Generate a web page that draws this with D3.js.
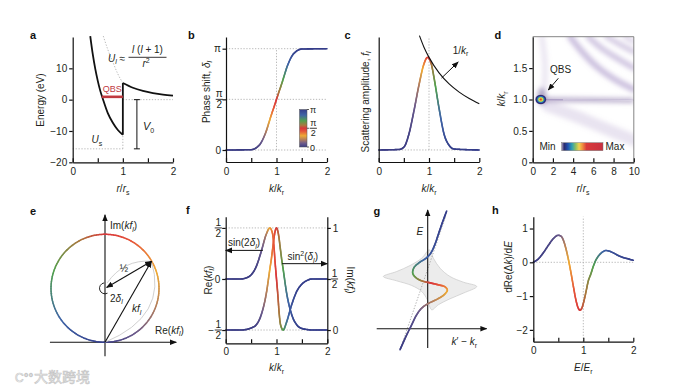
<!DOCTYPE html>
<html><head><meta charset="utf-8">
<script src="https://cdn.jsdelivr.net/npm/d3@7"></script>
<style>body{margin:0;background:#fff}svg{display:block}</style>
</head><body><svg id="c" width="690" height="391"></svg>
<script>
// ================= DATA =================
const kTicks=[0,0.5,1,1.5,2], kTickLab=['0','','1','','2'];
// panel a
const aTickY=[-20,-10,0,10], aTickYLab=['−20','−10','0','10'];
const aInnerR=[0.35,0.4,0.45,0.5,0.55,0.6,0.7,0.8,0.9,1.0];
const aInnerE=[20.3,14.5,9.8,6.0,2.8,0.3,-4.3,-7.4,-9.7,-11.2];
const aOuterR=[1.0,1.2,1.4,1.6,1.8,2.0];
const aOuterE=[5.3,3.8,2.8,2.1,1.6,1.3];
const aUlR=[0.61,0.7,0.8,0.9,1.0];
const aUlE=[20.3,16.0,12.0,8.2,5.3];
const aUs=-15.7;
const aQbs=[0.58,1.0,0.9];
const aV0=[1.28,0,-15.7];
// panel b
const bK=[0,0.5,0.6,0.7,0.75,0.8,0.85,0.9,0.95,1.0,1.05,1.1,1.15,1.2,1.25,1.3,1.4,1.5,2.0];
const bDelta=[0,0.01,0.07,0.24,0.4,0.6,0.85,1.1,1.33,1.571,1.81,2.04,2.29,2.54,2.74,2.9,3.07,3.13,3.1416];
// panel c
const cK=[0,0.4,0.5,0.6,0.7,0.8,0.9,0.97,1.05,1.1,1.2,1.3,1.4,1.5,2.0];
const cF=[0,0.005,0.03,0.17,0.42,0.7,0.93,1.0,0.92,0.78,0.45,0.17,0.05,0.01,0];
const cEnvK=[0.81,0.9,1.0,1.2,1.4,1.6,1.8,2.0];
const cEnvF=[1.235,1.11,1.0,0.833,0.714,0.625,0.556,0.5];
// panel d
const dTickX=[0,2,4,6,8,10], dTickXLab=['0','2','4','6','8','10'];
const dTickY=[0,0.5,1.0,1.5], dTickYLab=['0','0.5','1.0','1.5'];
const dBands=[
  {pts:[[3.7,2.0],[5.0,1.74],[6.3,1.53],[8.0,1.33],[10,1.16]],w:6,o:0.6},
  {pts:[[5.5,2.0],[6.7,1.83],[8.0,1.69],[10,1.5]],w:5.5,o:0.55},
  {pts:[[7.3,2.0],[8.6,1.88],[10,1.76]],w:5,o:0.5},
  {pts:[[9.1,2.0],[10,1.92]],w:4,o:0.45},
  {pts:[[0.9,2.0],[1.2,1.6],[1.2,1.3],[1.0,1.1]],w:5,o:0.25},
  {pts:[[1.5,0.9],[4,0.75],[7,0.55],[10,0.35]],w:12,o:0.25}
];
const dSpot=[0.8,1.0];
const dLineR=[0.8,3,10], dLineK=[1.0,0.995,0.985];
// panel e
const eKf=[0.43,0.75];
const eArc1=[[0.02,0.55],[0.175,0.77],[0.43,0.75]];
const eArc2=[[0,0],[0.585,0.245],[0.43,0.75]];
// panel f
const fK=[0,0.3,0.4,0.5,0.6,0.7,0.8,0.87,0.9,0.93,0.95,0.97,1.0,1.03,1.05,1.07,1.1,1.13,1.2,1.3,1.4,1.5,1.6,1.7,2.0];
const fRe=[0,0,0.01,0.04,0.12,0.27,0.44,0.5,0.48,0.42,0.32,0.18,0,-0.18,-0.32,-0.42,-0.48,-0.5,-0.42,-0.25,-0.12,-0.05,-0.015,0,0];
const fIm=[0,0,0.005,0.02,0.05,0.15,0.36,0.6,0.7,0.82,0.9,0.96,1.0,0.96,0.9,0.82,0.7,0.6,0.36,0.15,0.05,0.015,0.005,0,0];
// panel g
const gCurve=[[-0.83,-0.63],[-0.65,-0.23],[-0.48,0.12],[-0.33,0.42],[-0.18,0.62],[0.02,0.76],[0.27,0.88],[0.49,1.02],[0.59,1.16],[0.52,1.26],[0.32,1.32],[0.07,1.38],[-0.18,1.44],[-0.36,1.54],[-0.45,1.67],[-0.41,1.84],[-0.25,1.99],[-0.05,2.12],[0.09,2.27],[0.21,2.52],[0.33,2.87],[0.45,3.22],[0.57,3.54]];
const gT=[0.0,0.02,0.04,0.07,0.12,0.17,0.22,0.27,0.31,0.36,0.42,0.5,0.58,0.65,0.7,0.75,0.8,0.86,0.9,0.94,0.97,0.99,1.0];
const gBand=[[0.05,2.37],[-0.18,2.12],[-0.53,1.9],[-0.93,1.72],[-1.33,1.57],[-0.93,1.44],[-0.48,1.3],[-0.18,1.12],[-0.01,0.87],[0.12,0.57],[0.32,0.72],[0.67,0.9],[1.07,1.07],[1.47,1.27],[1.07,1.4],[0.67,1.57],[0.37,1.82],[0.17,2.12]];
const gRef=[[-0.75,-0.4],[0.55,3.4]];
// panel h
const hE=[0,0.1,0.2,0.3,0.4,0.5,0.55,0.6,0.65,0.7,0.75,0.8,0.85,0.9,0.93,0.97,1.0,1.05,1.1,1.15,1.2,1.25,1.3,1.4,1.45,1.5,1.6,1.7,1.8,1.9,2.0];
const hV=[0,0.1,0.28,0.5,0.7,0.8,0.78,0.66,0.42,0.1,-0.28,-0.7,-1.1,-1.36,-1.42,-1.36,-1.22,-0.9,-0.55,-0.35,-0.12,0.06,0.18,0.32,0.35,0.34,0.28,0.2,0.14,0.1,0.06];
const hT=[0,0.01,0.02,0.03,0.05,0.08,0.11,0.16,0.22,0.28,0.34,0.4,0.45,0.48,0.5,0.53,0.55,0.58,0.62,0.66,0.7,0.74,0.78,0.85,0.88,0.9,0.93,0.95,0.97,0.98,0.99];
const hTickY=[-2,-1,0,1], hTickYLab=['−2','−1','0','1'];
// colour maps
const phaseStops=[0,0.1,0.2,0.3,0.42,0.5,0.58,0.7,0.85,1];
const phaseColors=['#3a3c84','#6d5b8a','#b57f5a','#eeaa35','#e5553a','#d9363a','#a9783e','#52a04e','#3f64a6','#353d8a'];
const heatStops=[0,0.06,0.15,0.25,0.34,0.42,0.5,0.6,1];
const heatColors=['#a89cc0','#2a2a6a','#2050b0','#30a0b0','#90c060','#f0d050','#f09040','#d83a3a','#c83040'];

// ================= HELPERS =================
const FONT='"Liberation Sans", Arial, Helvetica, sans-serif';
const INK='#231f20';
const svg=d3.select('#c');
svg.append('rect').attr('width',690).attr('height',391).attr('fill','#fff');
const defs=svg.append('defs');
const phaseScale=d3.scaleLinear().domain(phaseStops).range(phaseColors).clamp(true);
function marker(id){defs.append('marker').attr('id',id).attr('viewBox','0 0 10 10').attr('refX',9).attr('refY',5)
  .attr('markerWidth',7).attr('markerHeight',7).attr('markerUnits','userSpaceOnUse').attr('orient','auto-start-reverse')
  .append('path').attr('d','M0,1 L10,5 L0,9 z').attr('fill','#111');}
marker('arr');
const bl=defs.append('filter').attr('id','blur').attr('x','-50%').attr('y','-50%').attr('width','200%').attr('height','200%');
bl.append('feGaussianBlur').attr('stdDeviation',2.4);
const bl2=defs.append('filter').attr('id','blur1').attr('x','-50%').attr('y','-50%').attr('width','200%').attr('height','200%');
bl2.append('feGaussianBlur').attr('stdDeviation',0.6);

function rich(g,x,y,parts,attrs={}){
  const t=g.append('text').attr('x',x).attr('y',y).attr('font-family',FONT).attr('font-size',10).attr('fill',INK);
  for(const k in attrs) t.attr(k,attrs[k]);
  let shift=0;
  parts.forEach(p=>{const s=p[0],st=p[1]||'';
    const sp=t.append('tspan').text(s);
    let target=0; if(st.includes('s')) target=2.8; else if(st.includes('S')) target=-4;
    if(target!==shift) sp.attr('dy',target-shift); shift=target;
    if(st.includes('s')||st.includes('S')) sp.attr('font-size',7);
    if(st.includes('i')) sp.attr('font-style','italic');
  });
  return t;
}
function styleAxis(gg){
  gg.attr('font-family',FONT);
  gg.select('.domain').attr('stroke','#111').attr('stroke-width',1.2);
  gg.selectAll('.tick line').attr('stroke','#111').attr('stroke-width',1.2);
  gg.selectAll('.tick text').attr('font-family',FONT).attr('font-size',10).attr('fill',INK);
}
function axB(g,sc,y,vals,labs,pad=6){
  const a=d3.axisBottom(sc).tickValues(vals).tickSizeInner(-4).tickSizeOuter(0).tickPadding(pad).tickFormat((d,i)=>labs[i]);
  const gg=g.append('g').attr('transform',`translate(0,${y})`).call(a); styleAxis(gg); return gg;
}
function axL(g,sc,x,vals,labs,pad=2){
  const a=d3.axisLeft(sc).tickValues(vals).tickSize(vals.length?3.5:0).tickSizeOuter(0).tickPadding(pad).tickFormat((d,i)=>labs[i]);
  const gg=g.append('g').attr('transform',`translate(${x},0)`).call(a); styleAxis(gg); return gg;
}
function axR(g,sc,x,vals,labs,pad=2){
  const a=d3.axisRight(sc).tickValues(vals).tickSize(3.5).tickSizeOuter(0).tickPadding(pad).tickFormat((d,i)=>labs[i]);
  const gg=g.append('g').attr('transform',`translate(${x},0)`).call(a); styleAxis(gg); return gg;
}
function frac(g,cx,cy,num,den,size=10){
  g.append('text').attr('x',cx).attr('y',cy-2).attr('text-anchor','middle').attr('font-family',FONT).attr('font-size',size).attr('fill',INK).text(num);
  g.append('line').attr('x1',cx-3.6).attr('x2',cx+3.6).attr('y1',cy).attr('y2',cy).attr('stroke',INK).attr('stroke-width',0.9);
  g.append('text').attr('x',cx).attr('y',cy+size*0.86).attr('text-anchor','middle').attr('font-family',FONT).attr('font-size',size).attr('fill',INK).text(den);
}
function dotted(g,x1,y1,x2,y2,col='#a8a8a8'){
  g.append('line').attr('x1',x1).attr('y1',y1).attr('x2',x2).attr('y2',y2).attr('stroke',col).attr('stroke-width',0.8).attr('stroke-dasharray','1.3,1.6');
}
function colorPath(g,pts,ts,opts={}){
  const curve=opts.curve||d3.curveMonotoneX,width=opts.width||1.6,mode=opts.mode||'x';
  const path=g.append('path').attr('d',d3.line().curve(curve)(pts)).attr('fill','none');
  const node=path.node(),L=node.getTotalLength();
  let dom;
  if(mode==='x') dom=pts.map(p=>p[0]);
  else{dom=[0];for(let i=1;i<pts.length;i++) dom.push(dom[i-1]+Math.hypot(pts[i][0]-pts[i-1][0],pts[i][1]-pts[i-1][1]));}
  const tsc=d3.scaleLinear().domain(dom).range(ts).clamp(true);
  const ct=dom[dom.length-1],N=Math.ceil(L/1.1);
  let p0=node.getPointAtLength(0);
  for(let i=1;i<=N;i++){
    const s=L*i/N,p1=node.getPointAtLength(s);
    const key=mode==='x'?(p0.x+p1.x)/2:(s-L/N/2)/L*ct;
    g.append('line').attr('x1',p0.x).attr('y1',p0.y).attr('x2',p1.x).attr('y2',p1.y)
      .attr('stroke',phaseScale(tsc(key))).attr('stroke-width',width).attr('stroke-linecap','round');
    p0=p1;
  }
  path.remove();
}
function panelLabel(x,y,s){svg.append('text').attr('x',x).attr('y',y).attr('font-family',FONT).attr('font-weight','bold').attr('font-size',11).attr('fill','#111').text(s);}
function rotLabel(g,x,y,parts,deg=-90){ return rich(g,0,0,parts,{'text-anchor':'middle','transform':`translate(${x},${y}) rotate(${deg})`}); }
const tOfK=d3.scaleLinear().domain(bK).range(bDelta.map(d=>d/Math.PI)).clamp(true);

// ================= PANEL a =================
{
  const g=svg.append('g');
  const x=d3.scaleLinear().domain([0,2]).range([72.7,173]);
  const y=d3.scaleLinear().domain([-20,20]).range([162.3,37]);
  dotted(g,x(0),y(aUs),x(1),y(aUs)); dotted(g,x(1),y(aUs),x(1),y(aInnerE[aInnerE.length-1]));
  dotted(g,x(1),y(0),x(2),y(0));
  g.append('path').attr('d',d3.line().curve(d3.curveMonotoneX)(aUlR.map((r,i)=>[x(r),y(aUlE[i])]))).attr('fill','none').attr('stroke','#a8a8a8').attr('stroke-width',0.8).attr('stroke-dasharray','1.3,1.6');
  const ln=d3.line().curve(d3.curveMonotoneX);
  g.append('path').attr('d',ln(aInnerR.map((r,i)=>[x(r),y(aInnerE[i])]))).attr('fill','none').attr('stroke','#111').attr('stroke-width',1.8);
  g.append('line').attr('x1',x(1)).attr('x2',x(1)).attr('y1',y(aInnerE[aInnerE.length-1])).attr('y2',y(aOuterE[0])).attr('stroke','#111').attr('stroke-width',1.8);
  g.append('path').attr('d',ln(aOuterR.map((r,i)=>[x(r),y(aOuterE[i])]))).attr('fill','none').attr('stroke','#111').attr('stroke-width',1.8);
  g.append('line').attr('x1',x(aQbs[0])).attr('x2',x(aQbs[1])).attr('y1',y(aQbs[2])).attr('y2',y(aQbs[2])).attr('stroke','#c0393f').attr('stroke-width',2.6);
  g.append('text').attr('x',(x(aQbs[0])+x(aQbs[1]))/2).attr('y',y(aQbs[2])-4.5).attr('text-anchor','middle').attr('font-family',FONT).attr('font-size',9).attr('fill','#c0393f').text('QBS');
  const vx=x(aV0[0]);
  g.append('line').attr('x1',vx).attr('x2',vx).attr('y1',y(aV0[1])).attr('y2',y(aV0[2])).attr('stroke','#111').attr('stroke-width',1);
  [aV0[1],aV0[2]].forEach(e=>g.append('line').attr('x1',vx-3).attr('x2',vx+3).attr('y1',y(e)).attr('y2',y(e)).attr('stroke','#111').attr('stroke-width',1));
  rich(g,143,130,[['V','i'],['0','s']],{'font-size':11});
  rich(g,91.5,143,[['U','i'],['s','s']],{'font-size':10});
  rich(g,108,61.5,[['U','i'],['l','is'],[' ≈']],{'font-size':10});
  rich(g,147.5,53,[['l','i'],[' ('],['l','i'],[' + 1)']],{'font-size':10,'text-anchor':'middle'});
  g.append('line').attr('x1',128.5).attr('x2',166.5).attr('y1',57.3).attr('y2',57.3).attr('stroke',INK).attr('stroke-width',0.9);
  rich(g,146,67,[['r','i'],['2','S']],{'font-size':10,'text-anchor':'middle'});
  axB(g,x,162.3,kTicks,kTickLab);
  axL(g,y,72.7,aTickY,aTickYLab);
  rotLabel(g,43.5,100,[['Energy (eV)']]);
  rich(g,123,192,[['r','i'],['/'],['r','i'],['s','s']],{'text-anchor':'middle'});
}
// ================= PANEL b =================
{
  const g=svg.append('g');
  const x=d3.scaleLinear().domain([0,2]).range([226,327]);
  const y=d3.scaleLinear().domain([-0.372,3.504]).range([162,37]);
  [0,Math.PI/2,Math.PI].forEach(v=>dotted(g,x(0),y(v),x(2),y(v)));
  dotted(g,x(1),y(0),x(1),y(Math.PI));
  colorPath(g,bK.map((k,i)=>[x(k),y(bDelta[i])]),bDelta.map(d=>d/Math.PI));
  axB(g,x,162,kTicks,kTickLab);
  axL(g,y,226,[0,Math.PI/2,Math.PI],['0','','π'],1.5);
  frac(g,219.3,y(Math.PI/2),'π','2');
  const gr=defs.append('linearGradient').attr('id','phaseBar').attr('x1',0).attr('y1',1).attr('x2',0).attr('y2',0);
  phaseStops.forEach((s,i)=>gr.append('stop').attr('offset',s).attr('stop-color',phaseColors[i]));
  const cb=d3.scaleLinear().domain([0,Math.PI]).range([147,109.5]);
  g.append('rect').attr('x',299.5).attr('y',cb(Math.PI)).attr('width',7.5).attr('height',cb(0)-cb(Math.PI)).attr('fill','url(#phaseBar)').attr('stroke','#555').attr('stroke-width',0.5);
  [0,Math.PI/2,Math.PI].forEach(v=>g.append('line').attr('x1',307).attr('x2',309).attr('y1',cb(v)).attr('y2',cb(v)).attr('stroke','#333').attr('stroke-width',0.8));
  g.append('text').attr('x',310).attr('y',cb(Math.PI)+3.5).attr('font-family',FONT).attr('font-size',9).attr('fill',INK).text('π');
  frac(g,313.3,cb(Math.PI/2),'π','2',9);
  g.append('text').attr('x',310).attr('y',cb(0)+3.5).attr('font-family',FONT).attr('font-size',9).attr('fill',INK).text('0');
  rotLabel(g,209.5,92,[['Phase shift, '],['δ','i'],['l','is']]);
  rich(g,276.5,192,[['k','i'],['/'],['k','i'],['r','s']],{'text-anchor':'middle'});
}
// ================= PANEL c =================
{
  const g=svg.append('g');
  const x=d3.scaleLinear().domain([0,2]).range([378.7,479.3]);
  const y=d3.scaleLinear().domain([-0.13,1.22]).range([162,37]);
  dotted(g,x(0),y(0),x(2),y(0)); dotted(g,x(1),y(0),x(1),y(1.22));
  colorPath(g,cK.map((k,i)=>[x(k),y(cF[i])]),cK.map(k=>tOfK(k)));
  g.append('path').attr('d',d3.line().curve(d3.curveMonotoneX)(cEnvK.map((k,i)=>[x(k),y(cEnvF[i])]))).attr('fill','none').attr('stroke','#111').attr('stroke-width',1.1);
  g.append('line').attr('x1',x(1.25)).attr('y1',y(0.777)).attr('x2',x(1.58)).attr('y2',y(0.95)).attr('stroke','#111').attr('stroke-width',1).attr('marker-end','url(#arr)');
  rich(g,x(1.47),y(1.04),[['1/'],['k','i'],['r','s']]);
  axB(g,x,162,kTicks,kTickLab);
  axL(g,y,378.7,[],[]);
  rotLabel(g,368.5,102,[['Scattering amplitude, '],['f','i'],['l','is']]);
  rich(g,429,192,[['k','i'],['/'],['k','i'],['r','s']],{'text-anchor':'middle'});
}
// ================= PANEL d =================
{
  const g=svg.append('g');
  const x=d3.scaleLinear().domain([0,10]).range([532.7,633.8]);
  const y=d3.scaleLinear().domain([0,2]).range([162.3,36.7]);
  defs.append('clipPath').attr('id','dclip').append('rect').attr('x',x(0)).attr('y',y(2)).attr('width',x(10)-x(0)).attr('height',y(0)-y(2));
  const hm=g.append('g').attr('clip-path','url(#dclip)');
  const hb=hm.append('g').attr('filter','url(#blur)');
  const ln=d3.line().curve(d3.curveCatmullRom);
  dBands.forEach(b=>hb.append('path').attr('d',ln(b.pts.map(p=>[x(p[0]),y(p[1])]))).attr('fill','none').attr('stroke','#a48fc4').attr('stroke-width',b.w).attr('stroke-opacity',b.o).attr('stroke-linecap','round'));
  const tail=dLineR.map((r,i)=>[x(r),y(dLineK[i])]);
  hb.append('path').attr('d',ln(tail)).attr('fill','none').attr('stroke','#8e7cad').attr('stroke-width',4).attr('stroke-opacity',0.7);
  hm.append('path').attr('d',ln(tail)).attr('fill','none').attr('stroke','#9a88b8').attr('stroke-width',1.6).attr('stroke-opacity',0.6).attr('filter','url(#blur1)');
  hm.append('path').attr('d',ln(tail.slice(1))).attr('fill','none').attr('stroke','#fff').attr('stroke-width',0.7).attr('stroke-opacity',0.85);
  const sx=x(dSpot[0]),sy=y(dSpot[1]);
  hb.append('ellipse').attr('cx',sx+1).attr('cy',sy-3).attr('rx',4.5).attr('ry',9).attr('fill','#6e5e96').attr('opacity',0.5);
  const rg=defs.append('radialGradient').attr('id','spotG');
  [[0,'#d0302f'],[0.2,'#e58a35'],[0.35,'#eed84a'],[0.5,'#5cbf78'],[0.65,'#2a62c0'],[0.82,'#262a6e'],[1,'#5a4a8a']].forEach(s=>rg.append('stop').attr('offset',s[0]).attr('stop-color',s[1]));
  hm.append('ellipse').attr('cx',sx).attr('cy',sy).attr('rx',5.5).attr('ry',4.8).attr('fill','url(#spotG)').attr('filter','url(#blur1)');
  g.append('line').attr('x1',x(10)).attr('x2',x(10)).attr('y1',y(0)).attr('y2',y(2)).attr('stroke','#666').attr('stroke-width',0.8);
  g.append('line').attr('x1',x(0)).attr('x2',x(10)).attr('y1',y(2)).attr('y2',y(2)).attr('stroke','#666').attr('stroke-width',0.8);
  const gr=defs.append('linearGradient').attr('id','heatBar');
  heatStops.forEach((s,i)=>gr.append('stop').attr('offset',s).attr('stop-color',heatColors[i]));
  g.append('rect').attr('x',561.7).attr('y',142.7).attr('width',41.3).attr('height',8).attr('fill','url(#heatBar)').attr('stroke','#777').attr('stroke-width',0.5);
  g.append('text').attr('x',539.5).attr('y',150.3).attr('font-family',FONT).attr('font-size',10).attr('fill',INK).text('Min');
  g.append('text').attr('x',605.5).attr('y',150.3).attr('font-family',FONT).attr('font-size',10).attr('fill',INK).text('Max');
  g.append('text').attr('x',560.5).attr('y',73).attr('text-anchor','middle').attr('font-family',FONT).attr('font-size',10).attr('fill',INK).text('QBS');
  g.append('line').attr('x1',558.3).attr('y1',78.3).attr('x2',548.3).attr('y2',90).attr('stroke','#111').attr('stroke-width',1).attr('marker-end','url(#arr)');
  axB(g,x,162.3,dTickX,dTickXLab);
  axL(g,y,532.7,dTickY,dTickYLab);
  rotLabel(g,505,99,[['k','i'],['/'],['k','i'],['r','s']]);
  rich(g,583,192,[['r','i'],['/'],['r','i'],['s','s']],{'text-anchor':'middle'});
}
// ================= PANEL e =================
{
  const g=svg.append('g');
  const x=d3.scaleLinear().domain([0,1]).range([105,213]);
  const y=d3.scaleLinear().domain([0,1]).range([342.3,234.3]);
  g.append('line').attr('x1',x(-0.51)).attr('x2',x(0.66)).attr('y1',y(0)).attr('y2',y(0)).attr('stroke','#111').attr('stroke-width',1.1).attr('marker-end','url(#arr)');
  g.append('line').attr('x1',x(0)).attr('x2',x(0)).attr('y1',y(-0.13)).attr('y2',y(1.18)).attr('stroke','#111').attr('stroke-width',1.1).attr('marker-end','url(#arr)');
  const cx=x(0),cy=y(0.5),R=x(0.5)-x(0),N=200;
  for(let i=0;i<N;i++){
    const a0=2*Math.PI*i/N,a1=2*Math.PI*(i+1)/N;
    g.append('line').attr('x1',cx+R*Math.sin(a0)).attr('y1',cy+R*Math.cos(a0)).attr('x2',cx+R*Math.sin(a1)).attr('y2',cy+R*Math.cos(a1))
      .attr('stroke',phaseScale((i+0.5)/N)).attr('stroke-width',1.5).attr('stroke-linecap','round');
  }
  [eArc1,eArc2].forEach(a=>{const p=d3.path();p.moveTo(x(a[0][0]),y(a[0][1]));p.quadraticCurveTo(x(a[1][0]),y(a[1][1]),x(a[2][0]),y(a[2][1]));
    g.append('path').attr('d',p.toString()).attr('fill','none').attr('stroke','#c4c4c4').attr('stroke-width',0.8);});
  g.append('line').attr('x1',x(0)).attr('y1',y(0)).attr('x2',x(eKf[0])).attr('y2',y(eKf[1])).attr('stroke','#111').attr('stroke-width',1.1).attr('marker-end','url(#arr)');
  g.append('line').attr('x1',x(0.015)).attr('y1',y(0.508)).attr('x2',x(eKf[0])).attr('y2',y(eKf[1])).attr('stroke','#111').attr('stroke-width',1.1).attr('marker-end','url(#arr)').attr('marker-start','url(#arr)');
  const sp=d3.path(); sp.arc(cx,cy,5.5,Math.PI*0.35,Math.PI*1.45,false);
  g.append('path').attr('d',sp.toString()).attr('fill','none').attr('stroke','#111').attr('stroke-width',0.9);
  rich(g,110,229,[['Im('],['kf','i'],['l','is'],[')']]);
  rich(g,155,333.5,[['Re('],['kf','i'],['l','is'],[')']]);
  g.append('text').attr('x',124).attr('y',271.5).attr('text-anchor','middle').attr('font-family',FONT).attr('font-size',10).attr('fill',INK).text('½');
  rich(g,110,301.5,[['2'],['δ','i'],['l','is']]);
  rich(g,132,312,[['kf','i'],['l','is']]);
}
// ================= PANEL f =================
{
  const g=svg.append('g');
  const x=d3.scaleLinear().domain([0,2]).range([225.7,327.3]);
  const yr=d3.scaleLinear().domain([-0.63,0.61]).range([343.3,216.7]);
  const yi=d3.scaleLinear().domain([-0.13,1.11]).range([343.3,216.7]);
  dotted(g,x(0),yr(0.5),x(2),yr(0.5)); dotted(g,x(0),yr(-0.5),x(2),yr(-0.5));
  colorPath(g,fK.map((k,i)=>[x(k),yi(fIm[i])]),fK.map(k=>tOfK(k)));
  colorPath(g,fK.map((k,i)=>[x(k),yr(fRe[i])]),fK.map(k=>tOfK(k)));
  g.append('line').attr('x1',x(0.73)).attr('x2',x(0)).attr('y1',yr(0.28)).attr('y2',yr(0.28)).attr('stroke','#111').attr('stroke-width',1).attr('marker-end','url(#arr)');
  g.append('line').attr('x1',x(1.11)).attr('x2',x(2)).attr('y1',yi(0.65)).attr('y2',yi(0.65)).attr('stroke','#111').attr('stroke-width',1).attr('marker-end','url(#arr)');
  rich(g,228,246,[['sin(2'],['δ','i'],['l','is'],[')']]);
  rich(g,287.5,260,[['sin'],['2','S'],['('],['δ','i'],['l','is'],[')']]);
  axB(g,x,343.3,kTicks,kTickLab,5);
  axL(g,yr,225.7,[-0.5,0,0.5],['','0',''],2);
  axR(g,yi,327.3,[0,0.5,1],['0','','1'],2);
  frac(g,218.3,yr(0.5),'1','2');
  frac(g,218.3,yr(-0.5),'1','2');
  g.append('text').attr('x',214.2).attr('y',yr(-0.5)+3.5).attr('text-anchor','end').attr('font-family',FONT).attr('font-size',10).attr('fill',INK).text('−');
  frac(g,334.5,yi(0.5),'1','2');
  rotLabel(g,211.5,280,[['Re('],['kf','i'],['l','is'],[')']]);
  rotLabel(g,346.5,280,[['Im('],['kf','i'],['l','is'],[')']],90);
  rich(g,276.5,371,[['k','i'],['/'],['k','i'],['r','s']],{'text-anchor':'middle'});
}
// ================= PANEL g =================
{
  const g=svg.append('g');
  const x=d3.scaleLinear().domain([-1.53,1.77]).range([376.7,486.7]);
  const y=d3.scaleLinear().domain([-0.58,3.57]).range([348,210]);
  g.append('path').attr('d',d3.line().curve(d3.curveCatmullRomClosed.alpha(0.5))(gBand.map(p=>[x(p[0]),y(p[1])])))
    .attr('fill','#ececec').attr('stroke','#c8c8c8').attr('stroke-width',0.7);
  dotted(g,x(gRef[0][0]),y(gRef[0][1]),x(gRef[1][0]),y(gRef[1][1]),'#9a9a9a');
  g.append('line').attr('x1',x(-1.53)).attr('x2',x(1.77)).attr('y1',y(0)).attr('y2',y(0)).attr('stroke','#111').attr('stroke-width',1.1).attr('marker-end','url(#arr)');
  g.append('line').attr('x1',x(0)).attr('x2',x(0)).attr('y1',y(-0.58)).attr('y2',y(3.57)).attr('stroke','#111').attr('stroke-width',1.1).attr('marker-end','url(#arr)');
  colorPath(g,gCurve.map(p=>[x(p[0]),y(p[1])]),gT,{curve:d3.curveCatmullRom.alpha(0.5),mode:'chord'});
  rich(g,416.5,235,[['E','i']],{'font-size':10});
  rich(g,451.5,345,[['k','i'],['′ − '],['k','i'],['r','s']]);
}
// ================= PANEL h =================
{
  const g=svg.append('g');
  const x=d3.scaleLinear().domain([0,2]).range([533.3,633.3]);
  const y=d3.scaleLinear().domain([-2.35,1.35]).range([341.7,216.7]);
  dotted(g,x(0),y(0),x(2),y(0)); dotted(g,x(1),y(-2.35),x(1),y(1.35));
  colorPath(g,hE.map((e,i)=>[x(e),y(hV[i])]),hT);
  axB(g,x,341.7,kTicks,kTickLab,5);
  axL(g,y,533.3,hTickY,hTickYLab);
  rotLabel(g,511.5,267,[['dRe(Δ'],['k','i'],[')/d'],['E','i']]);
  rich(g,583.3,371,[['E','i'],['/'],['E','i'],['r','s']],{'text-anchor':'middle'});
}
panelLabel(30,39,'a');panelLabel(188,39,'b');panelLabel(344.5,39,'c');panelLabel(494.5,39,'d');
panelLabel(30,215,'e');panelLabel(186,214,'f');panelLabel(373.5,215,'g');panelLabel(492,214,'h');
svg.append('text').attr('x',15).attr('y',382).attr('font-family',FONT).attr('font-size',12).attr('fill','none').attr('stroke','#c8c8c8').attr('stroke-width',0.7).text('C°°');
svg.append('text').attr('x',34).attr('y',382).attr('font-family','"Noto Sans CJK SC"').attr('font-size',14).attr('fill','#f2f2f2').attr('stroke','#c4c4c4').attr('stroke-width',0.6).text('大数跨境');
</script></body></html>
